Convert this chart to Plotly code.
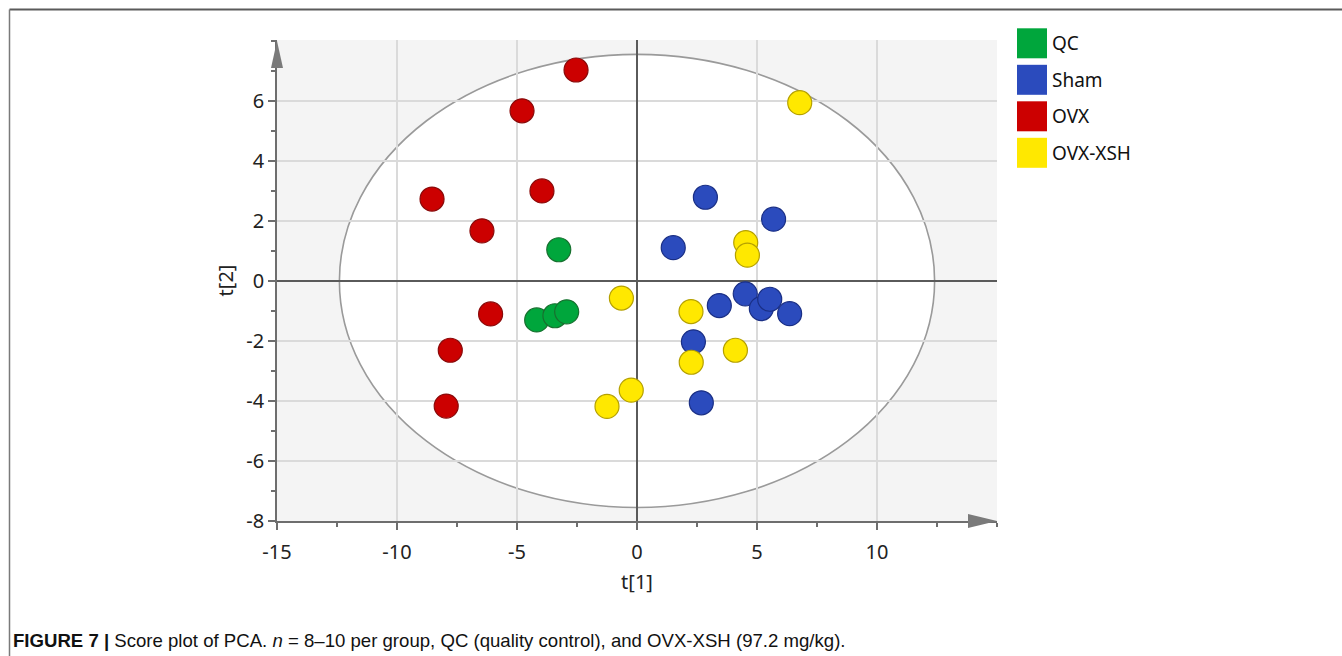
import plotly.graph_objects as go

# ---- data ----
groups = ["QC", "Sham", "OVX", "OVX-XSH"]
colors = ["#00A63C", "#2B4BBD", "#CC0000", "#FFE800"]
edge_colors = ["#17702F", "#1A2F85", "#8A0A0A", "#B5A000"]

qc_t1 = [-3.26, -4.18, -3.42, -2.93]
qc_t2 = [1.04, -1.30, -1.16, -1.03]

sham_t1 = [2.85, 5.69, 1.51, 4.51, 5.18, 5.53, 6.36, 3.43, 2.35, 2.68]
sham_t2 = [2.79, 2.06, 1.11, -0.43, -0.92, -0.61, -1.09, -0.82, -2.03, -4.06]

ovx_t1 = [-2.54, -4.79, -8.54, -3.96, -6.46, -6.10, -7.78, -7.95]
ovx_t2 = [7.03, 5.67, 2.73, 3.00, 1.67, -1.10, -2.31, -4.17]

xsh_t1 = [6.78, 4.53, 4.60, -0.65, 2.25, 2.26, 4.10, -0.24, -1.25]
xsh_t2 = [5.94, 1.28, 0.86, -0.57, -1.02, -2.71, -2.31, -3.64, -4.18]

xs = [qc_t1, sham_t1, ovx_t1, xsh_t1]
ys = [qc_t2, sham_t2, ovx_t2, xsh_t2]

x_ticks = [-15, -10, -5, 0, 5, 10]
y_ticks = [-8, -6, -4, -2, 0, 2, 4, 6]

ellipse_a = 12.4   # Hotelling T2 ellipse semi-axis on t[1]
ellipse_b = 7.55   # semi-axis on t[2]

x_range = [-15, 15]
y_range = [-8, 8.03]

caption_html = ("<b>FIGURE 7 |</b> Score plot of PCA. <i>n</i> = 8–10 per group, "
                "QC (quality control), and OVX-XSH (97.2 mg/kg).")

# ---- figure ----
W, H = 1342, 656
ml, mr, mt, mb = 277, 345, 40, 135
pw, ph = W - ml - mr, H - mt - mb

def px_x(p):
    return (p - ml) / pw

def px_y(p):
    return (H - mb - p) / ph

fig = go.Figure()
for g, c, ec, x, y in zip(groups, colors, edge_colors, xs, ys):
    fig.add_trace(go.Scatter(
        x=x, y=y, mode="markers", name=g,
        marker=dict(size=24, color=c, line=dict(color=ec, width=1.2)),
        showlegend=False,
    ))

shapes = []
# ellipse (white inside, below gridlines)
shapes.append(dict(type="circle", xref="x", yref="y",
                   x0=-ellipse_a, x1=ellipse_a, y0=-ellipse_b, y1=ellipse_b,
                   fillcolor="white", line=dict(color="#9a9a9a", width=1.6),
                   layer="below"))
# axis arrows (paper coords so they are not clipped)
shapes.append(dict(type="path", xref="paper", yref="paper",
                   path=f"M {px_x(968)},{px_y(514)} L {px_x(997)},{px_y(521)} "
                        f"L {px_x(968)},{px_y(528)} Z",
                   fillcolor="#7a7a7a", line=dict(width=0), layer="above"))
shapes.append(dict(type="path", xref="paper", yref="paper",
                   path=f"M {px_x(271)},{px_y(68)} L {px_x(277)},{px_y(41)} "
                        f"L {px_x(283)},{px_y(68)} Z",
                   fillcolor="#7a7a7a", line=dict(width=0), layer="above"))
# outer frame (top and left)
shapes.append(dict(type="line", xref="paper", yref="paper",
                   x0=px_x(9.5), x1=px_x(1342), y0=px_y(9.5), y1=px_y(9.5),
                   line=dict(color="#5a5a5a", width=2)))
shapes.append(dict(type="line", xref="paper", yref="paper",
                   x0=px_x(9.5), x1=px_x(9.5), y0=px_y(9.5), y1=px_y(656),
                   line=dict(color="#7a7a7a", width=1.5)))

annotations = []
# custom legend
row_top = [28.3, 64.8, 101.3, 137.8]
for g, c, t in zip(groups, colors, row_top):
    shapes.append(dict(type="rect", xref="paper", yref="paper",
                       x0=px_x(1017), x1=px_x(1047), y0=px_y(t + 30), y1=px_y(t),
                       fillcolor=c, line=dict(width=0)))
    annotations.append(dict(xref="paper", yref="paper", x=px_x(1050), y=px_y(t + 15),
                            text=g, showarrow=False, xanchor="left", yanchor="middle",
                            font=dict(family="Noto Sans, Open Sans, sans-serif",
                                      size=19, color="#111")))
# caption
annotations.append(dict(xref="paper", yref="paper", x=px_x(11), y=px_y(640),
                        text=caption_html, showarrow=False, xanchor="left",
                        yanchor="middle",
                        font=dict(family="Liberation Sans, Arial, sans-serif",
                                  size=18.6, color="#111")))

tick_font = dict(family="Noto Sans, Open Sans, sans-serif", size=20, color="#222")
title_font = dict(family="Noto Sans, sans-serif", size=20, color="#222")

fig.update_layout(
    width=W, height=H,
    margin=dict(l=ml, r=mr, t=mt, b=mb, pad=0),
    paper_bgcolor="white", plot_bgcolor="#f4f4f4",
    shapes=shapes, annotations=annotations,
    xaxis=dict(range=x_range, tickvals=x_ticks, ticktext=[str(v) for v in x_ticks],
               showgrid=True, gridcolor="#dadada", gridwidth=1.5,
               zeroline=True, zerolinecolor="#5a5a5a", zerolinewidth=1.5,
               showline=True, linecolor="#6e6e6e", linewidth=1.5,
               ticks="outside", ticklen=7, tickwidth=1.5, tickcolor="#6e6e6e",
               ticklabelstandoff=5,
               minor=dict(dtick=2.5, tick0=0, ticks="outside", ticklen=4,
                          tickwidth=1.5, tickcolor="#6e6e6e", showgrid=False),
               tickfont=tick_font,
               title=dict(text="t[1]", font=title_font, standoff=11)),
    yaxis=dict(range=y_range, tickvals=y_ticks, ticktext=[str(v) for v in y_ticks],
               showgrid=True, gridcolor="#dadada", gridwidth=1.5,
               zeroline=True, zerolinecolor="#5a5a5a", zerolinewidth=1.5,
               showline=True, linecolor="#6e6e6e", linewidth=1.5,
               ticks="outside", ticklen=7, tickwidth=1.5, tickcolor="#6e6e6e",
               minor=dict(dtick=1, tick0=0, ticks="outside", ticklen=4,
                          tickwidth=1.5, tickcolor="#6e6e6e", showgrid=False),
               tickfont=tick_font,
               title=dict(text="t[2]", font=title_font, standoff=7)),
)

fig.write_html("out.html")
